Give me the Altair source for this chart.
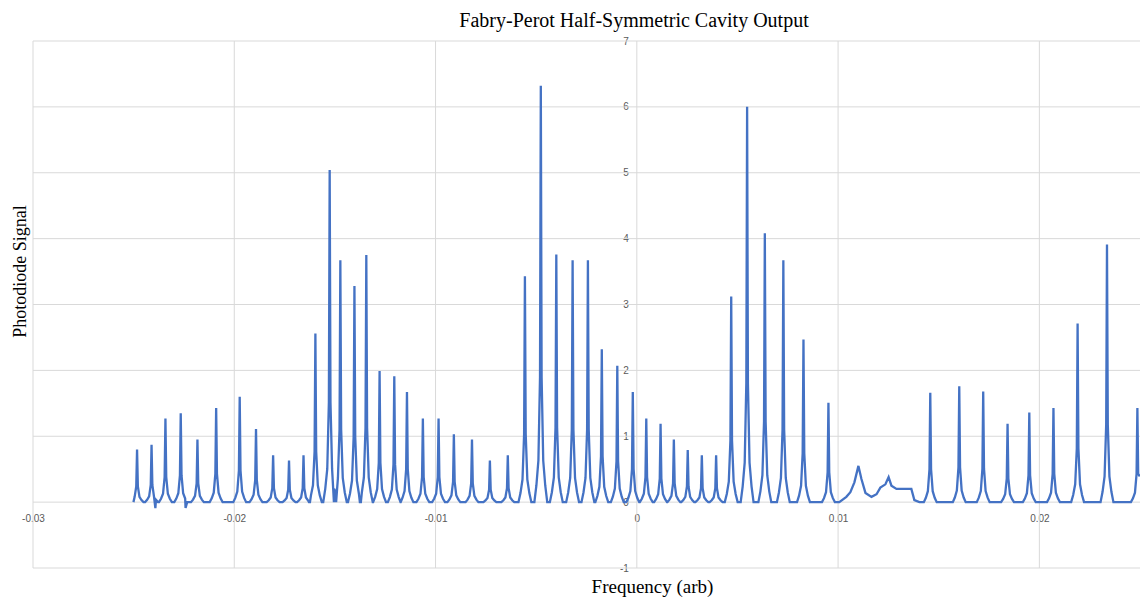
import altair as alt
import pandas as pd

# Peak centres (frequency, arb) and peak heights (photodiode signal)
peak_x = [-0.02483, -0.02411, -0.02342, -0.02266, -0.02183, -0.02090, -0.01973, -0.01892,
          -0.01807, -0.01728, -0.01656, -0.01597, -0.01526, -0.01473, -0.01403, -0.01344,
          -0.01278, -0.01205, -0.01142, -0.01063, -0.00985, -0.00909, -0.00819, -0.00730,
          -0.00641, -0.00556, -0.00477, -0.00400, -0.00319, -0.00243, -0.00174, -0.00097,
          -0.00020, 0.00047, 0.00118, 0.00184, 0.00253, 0.00323, 0.00394, 0.00469,
          0.00548, 0.00636, 0.00728, 0.00828, 0.00952, 0.01458, 0.01602, 0.01721,
          0.01842, 0.01950, 0.02070, 0.02190, 0.02336, 0.02487]
peak_h = [0.80, 0.87, 1.27, 1.35, 0.95, 1.43, 1.60, 1.11,
          0.71, 0.63, 0.71, 2.56, 5.04, 3.67, 3.28, 3.75,
          1.99, 1.91, 1.67, 1.27, 1.27, 1.03, 0.95, 0.63,
          0.71, 3.43, 6.32, 3.76, 3.67, 3.67, 2.32, 2.07,
          1.67, 1.27, 1.19, 0.95, 0.79, 0.71, 0.71, 3.12,
          6.00, 4.08, 3.67, 2.47, 1.51, 1.66, 1.76, 1.68,
          1.19, 1.36, 1.43, 2.71, 3.91, 1.43]

# Spike shape: offset from centre and fraction of peak height
profile_dx = [-0.00032, -0.00022, -0.00012, -0.00004, 0.0, 0.00004, 0.00012, 0.00022, 0.00032]
profile_f = [0.0, 0.04, 0.10, 0.30, 1.0, 0.30, 0.10, 0.04, 0.0]

# Extra traced points: small dips and the broad bumps near 0.011-0.013
extra_x = [-0.02392, -0.02242,
           0.01006, 0.01041, 0.01061, 0.01081, 0.01101, 0.01116, 0.01136, 0.01166,
           0.01191, 0.01210, 0.01235, 0.01251, 0.01265, 0.01290, 0.01364, 0.01379, 0.01404]
extra_y = [-0.09, -0.09,
           0.0, 0.08, 0.15, 0.30, 0.55, 0.35, 0.14, 0.08,
           0.12, 0.22, 0.27, 0.38, 0.25, 0.20, 0.20, 0.03, 0.0]

start_x, start_y = -0.02501, 0.0
end_x, end_y = 0.02499, 0.39

x_ticks = [-0.03, -0.02, -0.01, 0.0, 0.01, 0.02]
y_ticks = [-1, 0, 1, 2, 3, 4, 5, 6, 7]
chart_title = ["Fabry-Perot Half-Symmetric Cavity Output"]

rows = []
for cx, h in zip(peak_x, peak_h):
    for dx, f in zip(profile_dx, profile_f):
        rows.append((cx + dx, h * f))
rows += list(zip(extra_x, extra_y))
rows = [r for r in rows if start_x < r[0] < end_x]
rows.append((start_x, start_y))
rows.append((end_x, end_y))
rows.sort()
df = pd.DataFrame(rows, columns=["x", "y"])

xscale = alt.Scale(domain=[-0.03, 0.025], nice=False, zero=False)
yscale = alt.Scale(domain=[-1, 7], nice=False, zero=False)

label_font = "Liberation Sans"
title_font = "Liberation Serif"

xaxis = alt.Axis(values=x_ticks, offset=-66, grid=False, domain=False, ticks=False,
                 labelPadding=11, labelFont=label_font, labelFontSize=10,
                 labelColor="#595959", labelFlush=False, labelOverlap=False, labelBound=False,
                 labelExpr="toString(round(datum.value*100)/100)",
                 title="Frequency (arb)", titleFont=title_font, titleFontSize=19,
                 titleFontWeight="normal", titleColor="black", titleX=619, titleY=90,
                 titleAlign="center", titleBaseline="alphabetic", titleAnchor="middle")
yaxis = alt.Axis(values=y_ticks, offset=-604.3, grid=False, domain=False, ticks=False,
                 labelPadding=9, labelFont=label_font, labelFontSize=10,
                 labelColor="#595959", labelOverlap=False, labelBound=False,
                 labelExpr="toString(datum.value)",
                 title="Photodiode Signal", titleFont=title_font, titleFontSize=18,
                 titleFontWeight="normal", titleColor="black", titleAngle=270,
                 titleX=-612, titleY=230, titleAlign="center", titleBaseline="alphabetic")

x_enc = alt.X("x:Q", scale=xscale, axis=xaxis)
y_enc = alt.Y("y:Q", scale=yscale, axis=yaxis)

vgrid = alt.Chart(pd.DataFrame({"x": x_ticks})).mark_rule(
    color="#d9d9d9", strokeWidth=1).encode(x=x_enc)
hgrid = alt.Chart(pd.DataFrame({"y": y_ticks})).mark_rule(
    color="#d9d9d9", strokeWidth=1).encode(y=y_enc)
line = alt.Chart(df).mark_line(color="#4472C4", strokeWidth=2.3).encode(x=x_enc, y=y_enc)

title_text = alt.Chart(pd.DataFrame({"t": chart_title})).mark_text(
    font=title_font, fontSize=20, color="black", align="center", baseline="alphabetic"
).encode(text="t:N", x=alt.value(601), y=alt.value(-14))

chart = alt.layer(vgrid, hgrid, line, title_text).properties(
    width=1107, height=527,
    autosize=alt.AutoSizeParams(type="none"),
    padding={"left": 25, "top": 33, "right": 0, "bottom": 36},
).configure_view(stroke=None)

chart.save("out.html", embed_options={"renderer": "svg", "actions": False})
